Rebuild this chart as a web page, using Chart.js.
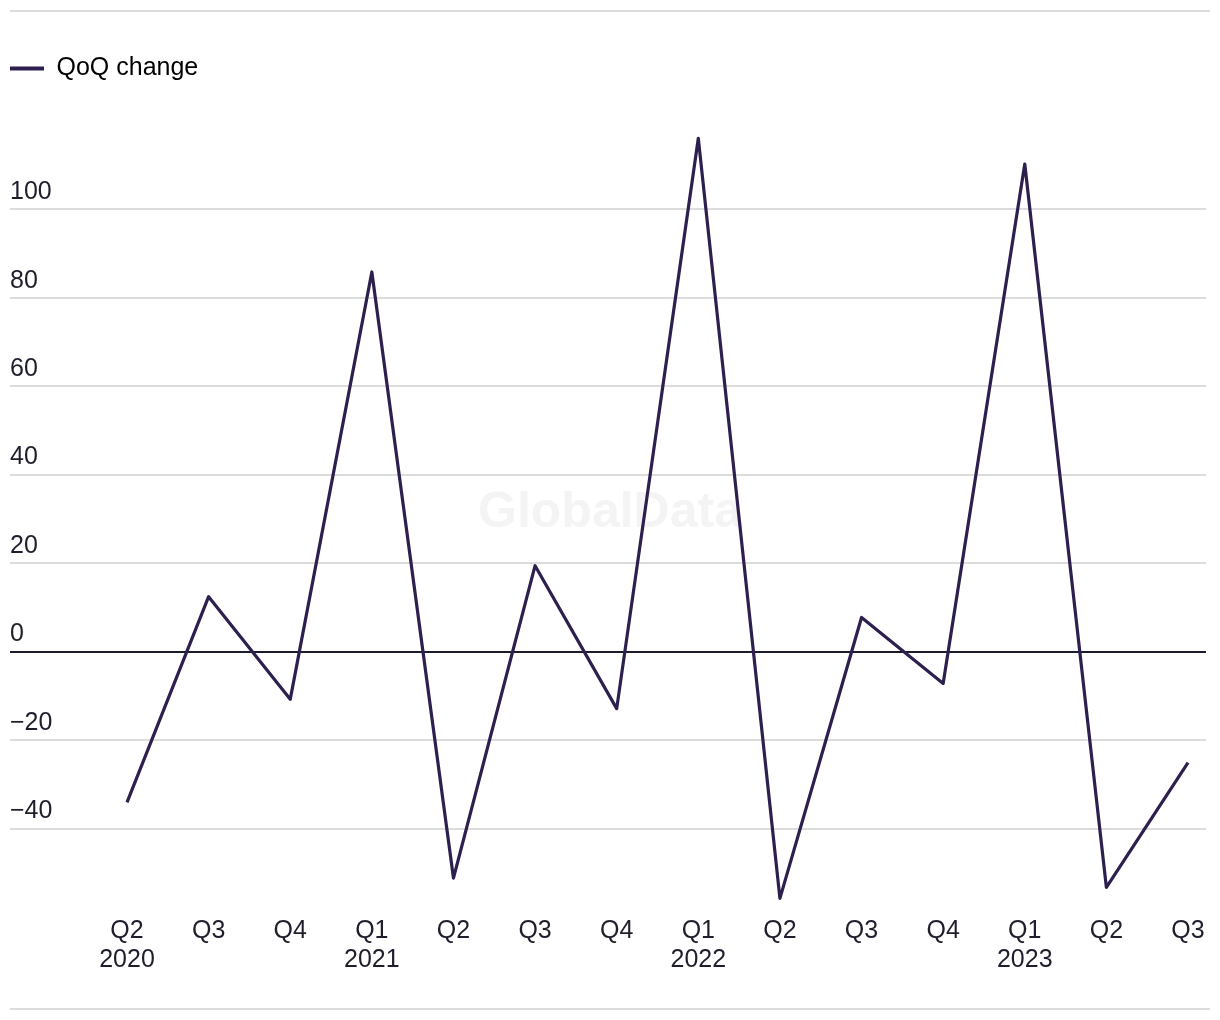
<!DOCTYPE html>
<html><head><meta charset="utf-8">
<script src="https://cdn.jsdelivr.net/npm/chart.js@4"></script>
<style>
html,body{margin:0;background:#fff;}
.rule{position:absolute;left:10px;width:1200px;height:2px;background:#dcdcdc;}
#c{position:absolute;left:0;top:12px;}
</style></head>
<body>
<div class="rule" style="top:10px"></div>
<canvas id="c" width="1210" height="994"></canvas>
<div class="rule" style="top:1008px"></div>
<script>
const quarters = ['Q2','Q3','Q4','Q1','Q2','Q3','Q4','Q1','Q2','Q3','Q4','Q1','Q2','Q3'];
const years    = ['2020','','','2021','','','','2022','','','','2023','',''];
const qoq      = [-34.1, 12.4, -10.8, 85.8, -51.2, 19.4, -12.9, 116.0, -55.8, 7.7, -7.2, 110.2, -53.3, -25.1];
const yTickValues = [-40, -20, 0, 20, 40, 60, 80, 100];
const seriesLabel = 'QoQ change';
const watermarkText = 'GlobalData';

const lineColor = '#2d1f4e';
const textColor = '#1e1e2d';
const FONT = "'Liberation Sans', Arial, sans-serif";

const points = qoq.map((v, i) => ({x: i, y: v}));

const watermark = {
  id: 'watermark',
  beforeDatasetsDraw(chart) {
    const {ctx} = chart;
    ctx.save();
    ctx.font = "bold 50px " + FONT;
    ctx.fillStyle = '#f4f4f4';
    ctx.textAlign = 'center';
    ctx.textBaseline = 'middle';
    ctx.fillText(watermarkText, 610, 501);
    ctx.restore();
  }
};

new Chart(document.getElementById('c'), {
  type: 'line',
  data: {
    datasets: [{
      label: seriesLabel,
      data: points,
      borderColor: lineColor,
      backgroundColor: lineColor,
      borderWidth: 3.2,
      pointRadius: 0,
      tension: 0,
      borderJoinStyle: 'round'
    }]
  },
  options: {
    responsive: false,
    animation: false,
    layout: {padding: {left: 10, right: 4, top: 44, bottom: 0}},
    plugins: {
      tooltip: {enabled: false},
      legend: {
        position: 'top',
        align: 'start',
        labels: {
          boxWidth: 34,
          boxHeight: 4,
          padding: 0,
          color: textColor,
          font: {family: FONT, size: 25},
          generateLabels: () => [{
            text: seriesLabel, fillStyle: lineColor, strokeStyle: lineColor,
            lineWidth: 0, hidden: false, datasetIndex: 0
          }]
        }
      }
    },
    scales: {
      x: {
        type: 'linear',
        min: -1.4336,
        max: 13.2205,
        grid: {display: false, drawTicks: false},
        border: {display: false},
        afterBuildTicks(s) {
          s.ticks = quarters.map((q, i) => ({value: i}));
        },
        afterFit(s) { s.height = 89; },
        ticks: {
          autoSkip: false,
          maxRotation: 0,
          padding: 0,
          color: textColor,
          font: {family: FONT, size: 25, lineHeight: 1.16},
          callback: (v) => {
            const i = Math.round(v);
            return years[i] ? [quarters[i], years[i]] : quarters[i];
          }
        }
      },
      y: {
        min: -60,
        max: 126.7,
        border: {display: false},
        afterBuildTicks(s) {
          s.ticks = yTickValues.map(v => ({value: v}));
        },
        grid: {
          drawTicks: false,
          lineWidth: 2,
          color: (c) => c.tick && c.tick.value === 0 ? '#1b1b2c' : '#dcdcdc'
        },
        ticks: {
          mirror: true,
          padding: 0,
          labelOffset: -17,
          color: textColor,
          font: {family: FONT, size: 25},
          callback: (v) => v < 0 ? '\u2212' + Math.abs(v) : String(v)
        }
      }
    }
  },
  plugins: [watermark]
});
</script>
</body></html>
